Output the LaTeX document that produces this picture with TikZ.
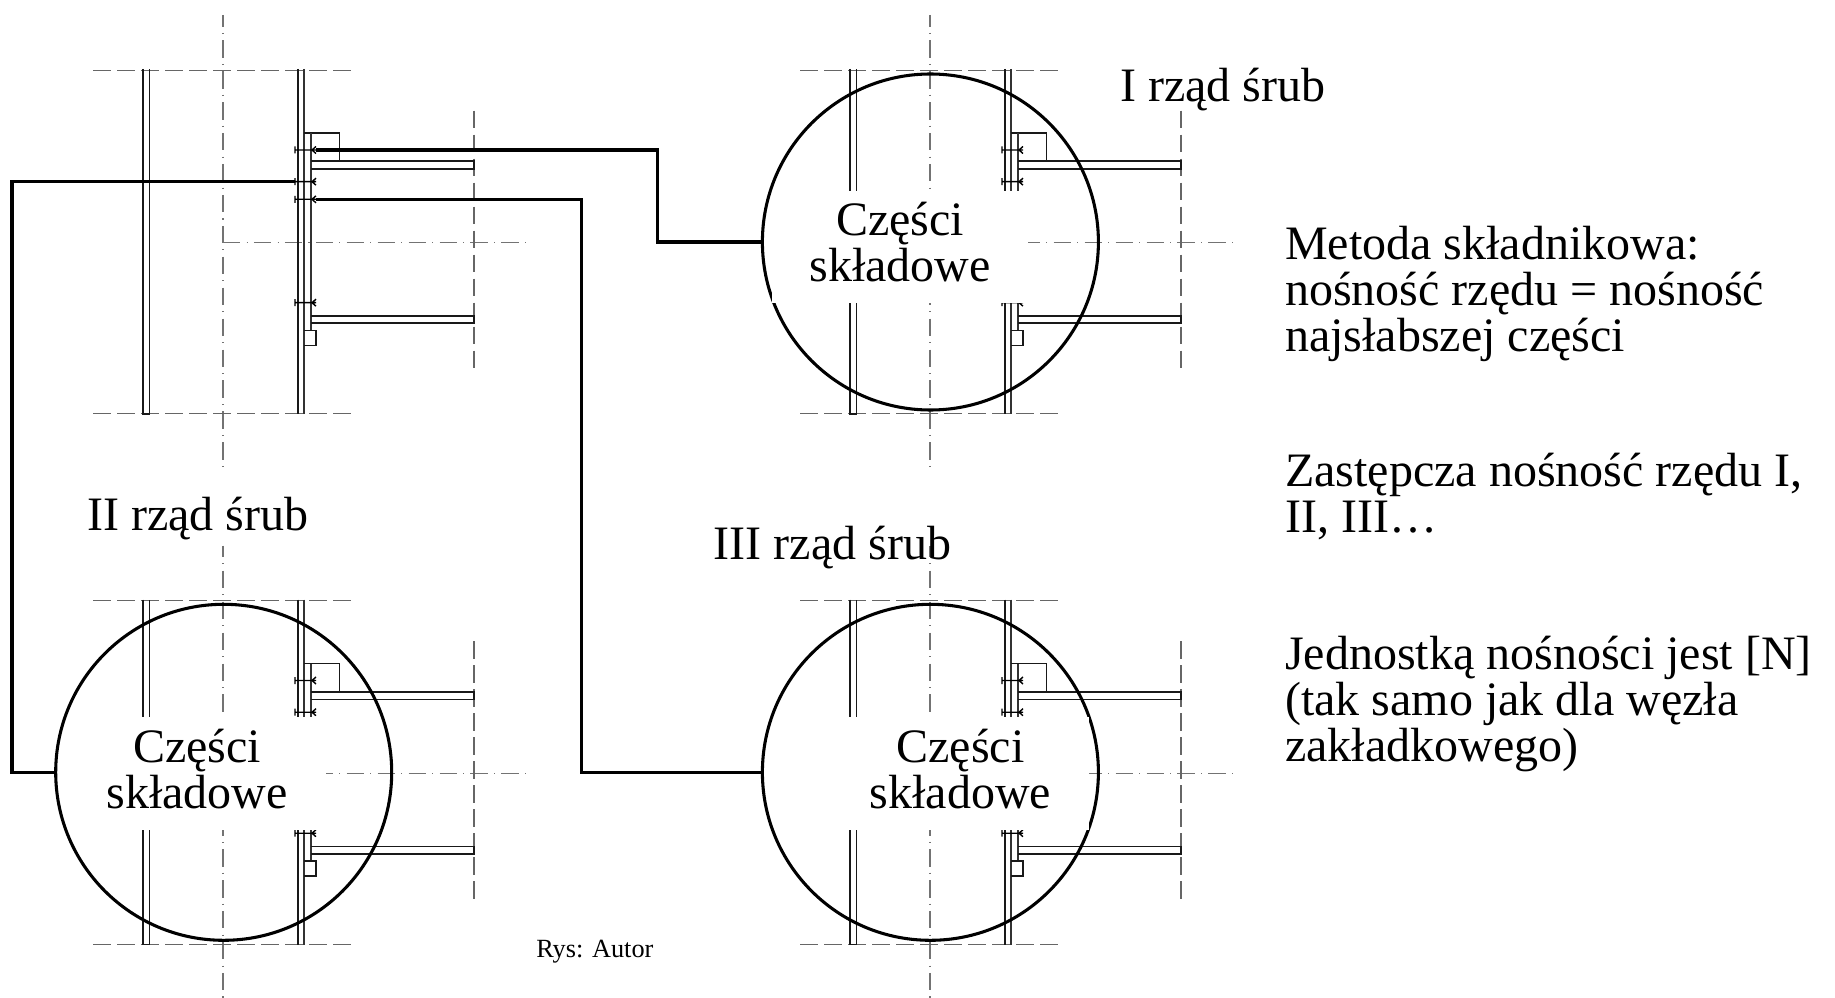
\documentclass[tikz,border=0pt]{standalone}
\usepackage{fontspec}
\setmainfont{Liberation Serif}
\tikzset{
  steel/.style={draw=black!90,line width=1.25pt},
  steelbold/.style={draw=black!80,line width=1.6pt},
  boltline/.style={draw=black,line width=1.05pt},
  dashline/.style={draw=black!60,line width=.95pt,dash pattern=on 13.2pt off 4.8pt},
  axisline/.style={draw=black!55,line width=.95pt,dash pattern=on 13.1pt off 4.6pt on .8pt off 4.7pt},
  link/.style={draw=black,line width=2.6pt,line join=miter},
  partcircle/.style={circle,draw=black,line width=2.3pt,minimum size=252pt,inner sep=0pt},
  blanking/.style={fill=white,draw=none},
  label/.style={inner sep=0pt,font=\fontsize{36}{34.5}\selectfont,anchor=base west,align=left},
  partlabel/.style={inner sep=0pt,font=\fontsize{36}{34.5}\selectfont,anchor=base,align=center},
  credit/.style={inner sep=0pt,font=\fontsize{19.7}{24}\selectfont,anchor=base west}
}
\newcommand{\boltat}[1]{%
  \draw[boltline] (295,#1-3.5) -- (295,#1+3.5) (295,#1) -- (316,#1) (316,#1-3.5) -- (312,#1) -- (316,#1+3.5);
}
\newcommand{\steelpanel}[2]{%
  \begin{scope}[shift={(#1,#2)}]
    % axes and outlines
    \draw[axisline,dash phase=4.3pt] (223,15) -- (223,467.5);
    \draw[axisline] (223,242.7) -- (529,242.7);
    \draw[dashline] (93,70.3) -- (355,70.3);
    \draw[dashline] (93,413.7) -- (355,413.7);
    \draw[dashline] (474,110.7) -- (474,372.7);
    % column flanges
    \draw[steel] (143,69) -- (143,414) -- (149.5,414) -- (149.5,69);
    \draw[steel] (298,69) -- (298,414);
    \draw[steelbold] (304,69) -- (304,414);
    % end plate and stiffeners
    \draw[steel] (304,133) -- (339.5,133) -- (339.5,161);
    \draw[steelbold] (311,133) -- (311,330.5);
    \draw[steel] (311,161.3) -- (474,161.3) -- (474,169) -- (311,169);
    \draw[steel] (311,316) -- (474,316) -- (474,323.3) -- (311,323.3);
    \draw[steel] (304,330.5) -- (315.7,330.5) -- (315.7,345.5) -- (304,345.5);
    % bolts
    \boltat{150}
    \boltat{181.7}
    \boltat{199.3}
    \boltat{302.7}
  \end{scope}
}
\begin{document}
\begin{tikzpicture}[x=.75pt,y=-.75pt]
  \useasboundingbox (0,0) rectangle (1835,998);
  \steelpanel{0}{0}
  \steelpanel{707}{0}
  \steelpanel{0}{530.5}
  \steelpanel{707}{530.5}

  % circles
  \node[partcircle] (c1) at (930.4,242) {};
  \node[partcircle] (c2) at (930.4,772.3) {};
  \node[partcircle] (c3) at (223.7,772.3) {};

  % white patches behind the circle labels
  \fill[blanking] (771.5,190.7) rectangle (1028,302.7);
  \fill[blanking] (780,717.3) rectangle (1089.3,830);
  \fill[blanking] (70,717.3) rectangle (326,830);

  % connectors
  \coordinate (boltI) at (316,150);
  \coordinate (boltII) at (295,181.7);
  \coordinate (boltIII) at (316,199.3);
  \coordinate (bendI) at (657.7,150);
  \coordinate (bendII) at (12,181.7);
  \coordinate (bendIII) at (581.6,199.3);
  \draw[link] (boltI) -- (bendI) |- (c1.west);
  \draw[link] (boltII) -- (bendII) |- (c3.west);
  \draw[link] (boltIII) -- (bendIII) |- (c2.west);

  % labels
  \node[partlabel] (p1) at (900,281.7) {Części\\składowe};
  \node[partlabel] (p2) at (960.5,808) {Części\\składowe};
  \node[partlabel] (p3) at (197,808) {Części\\składowe};

  \node[label] (r1) at (1120,101.7) {I rząd śrub};
  \node[label] (r2) at (87,530.7) {II rząd śrub};
  \node[label] (r3) at (713.7,559) {III rząd śrub};

  \node[label] (t1) at (1285,351.7) {Metoda składnikowa:\\nośność rzędu = nośność\\najsłabszej części};
  \node[label] (t2) at (1285,532.7) {Zastępcza nośność rzędu I,\\II, III…};
  \node[label] (t3) at (1285,761.7) {Jednostką nośności jest [N]\\(tak samo jak dla węzła\\zakładkowego)};

  \node[credit] (rys) at (536,957.3) {Rys: Autor};
\end{tikzpicture}
\end{document}
